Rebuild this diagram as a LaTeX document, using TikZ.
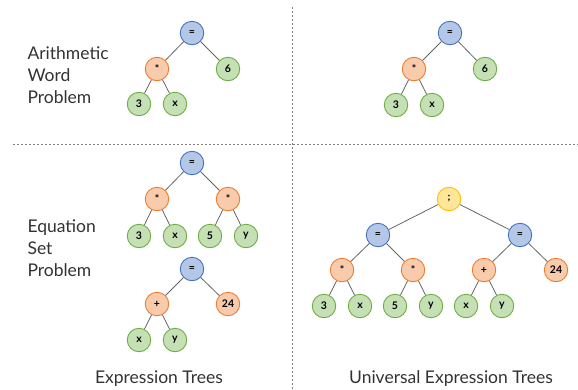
\documentclass[tikz,border=0pt]{standalone}
\usepackage{fontspec}
\setmainfont{Lato}
\definecolor{bfill}{HTML}{B4C7E7}
\definecolor{bdraw}{HTML}{4472C4}
\definecolor{ofill}{HTML}{F8CBAD}
\definecolor{odraw}{HTML}{ED7D31}
\definecolor{gfill}{HTML}{C5E0B4}
\definecolor{gdraw}{HTML}{70AD47}
\definecolor{yfill}{HTML}{FFE699}
\definecolor{ydraw}{HTML}{FFC000}
\definecolor{edgec}{HTML}{666666}
\definecolor{txt}{HTML}{333333}
\begin{document}
\begin{tikzpicture}[x=1pt,y=-1pt,
  nd/.style={circle,line width=0.9pt,minimum size=23.5pt,inner sep=0pt,font=\fontsize{10.5}{11}\selectfont\bfseries,text=black},
  bn/.style={nd,fill=bfill,draw=bdraw},
  on/.style={nd,fill=ofill,draw=odraw},
  gn/.style={nd,fill=gfill,draw=gdraw},
  yn/.style={nd,fill=yfill,draw=ydraw},
  ed/.style={draw=edgec,line width=0.8pt},
  sep/.style={draw=gray,line width=0.8pt,dash pattern=on 2pt off 2pt},
  lbl/.style={font=\fontsize{17.5}{22}\selectfont,text=txt,align=left,anchor=west},
  captxt/.style={font=\fontsize{17.5}{20}\selectfont,text=txt}]
\useasboundingbox (0,0) rectangle (578,389);
\coordinate (h1) at (13,144);
\coordinate (h2) at (578,144);
\coordinate (v1) at (292,7);
\coordinate (v2) at (292,389);
\draw[sep] (h1) -- (h2);
\draw[sep] (v1) -- (v2);

% labels
\node[lbl] (l1) at (24,75) {Arithmetic\\Word\\Problem};
\node[lbl] (l2) at (24,248) {Equation\\Set\\Problem};
\node[captxt] (c1) at (159,379) {Expression Trees};
\node[captxt] (c2) at (451,379) {Universal Expression Trees};

% top left
\node[bn] (a1) at (192,33) {=};
\node[on] (a2) at (157,69) {*};
\node[gn] (a3) at (228,69) {6};
\node[gn] (a4) at (139,104) {3};
\node[gn] (a5) at (175,104) {x};
\draw[ed] (a1) -- (a2); \draw[ed] (a1) -- (a3);
\draw[ed] (a2) -- (a4); \draw[ed] (a2) -- (a5);

% top right
\node[bn] (b1) at (450,33) {=};
\node[on] (b2) at (414,69) {*};
\node[gn] (b3) at (485,69) {6};
\node[gn] (b4) at (396,105) {3};
\node[gn] (b5) at (432,105) {x};
\draw[ed] (b1) -- (b2); \draw[ed] (b1) -- (b3);
\draw[ed] (b2) -- (b4); \draw[ed] (b2) -- (b5);

% bottom left tree 1
\node[bn] (c1n) at (192,163) {=};
\node[on] (c2n) at (157,199) {*};
\node[on] (c3n) at (228,199) {*};
\node[gn] (c4n) at (139,236) {3};
\node[gn] (c5n) at (175,236) {x};
\node[gn] (c6n) at (210,236) {5};
\node[gn] (c7n) at (246,236) {y};
\draw[ed] (c1n) -- (c2n); \draw[ed] (c1n) -- (c3n);
\draw[ed] (c2n) -- (c4n); \draw[ed] (c2n) -- (c5n);
\draw[ed] (c3n) -- (c6n); \draw[ed] (c3n) -- (c7n);

% bottom left tree 2
\node[bn] (d1) at (192,269) {=};
\node[on] (d2) at (157,304) {+};
\node[on] (d3) at (228,304) {24};
\node[gn] (d4) at (139,340) {x};
\node[gn] (d5) at (175,340) {y};
\draw[ed] (d1) -- (d2); \draw[ed] (d1) -- (d3);
\draw[ed] (d2) -- (d4); \draw[ed] (d2) -- (d5);

% bottom right
\node[yn] (e0) at (449,199) {;};
\node[bn] (e1) at (378,235) {=};
\node[bn] (e2) at (520,235) {=};
\node[on] (e3) at (342,270) {*};
\node[on] (e4) at (413,270) {*};
\node[on] (e5) at (484,270) {+};
\node[on] (e6) at (556,270) {24};
\node[gn] (e7) at (324,306) {3};
\node[gn] (e8) at (360,306) {x};
\node[gn] (e9) at (395,306) {5};
\node[gn] (e10) at (431,306) {y};
\node[gn] (e11) at (466,306) {x};
\node[gn] (e12) at (502,306) {y};
\draw[ed] (e0) -- (e1); \draw[ed] (e0) -- (e2);
\draw[ed] (e1) -- (e3); \draw[ed] (e1) -- (e4);
\draw[ed] (e2) -- (e5); \draw[ed] (e2) -- (e6);
\draw[ed] (e3) -- (e7); \draw[ed] (e3) -- (e8);
\draw[ed] (e4) -- (e9); \draw[ed] (e4) -- (e10);
\draw[ed] (e5) -- (e11); \draw[ed] (e5) -- (e12);
\end{tikzpicture}
\end{document}
